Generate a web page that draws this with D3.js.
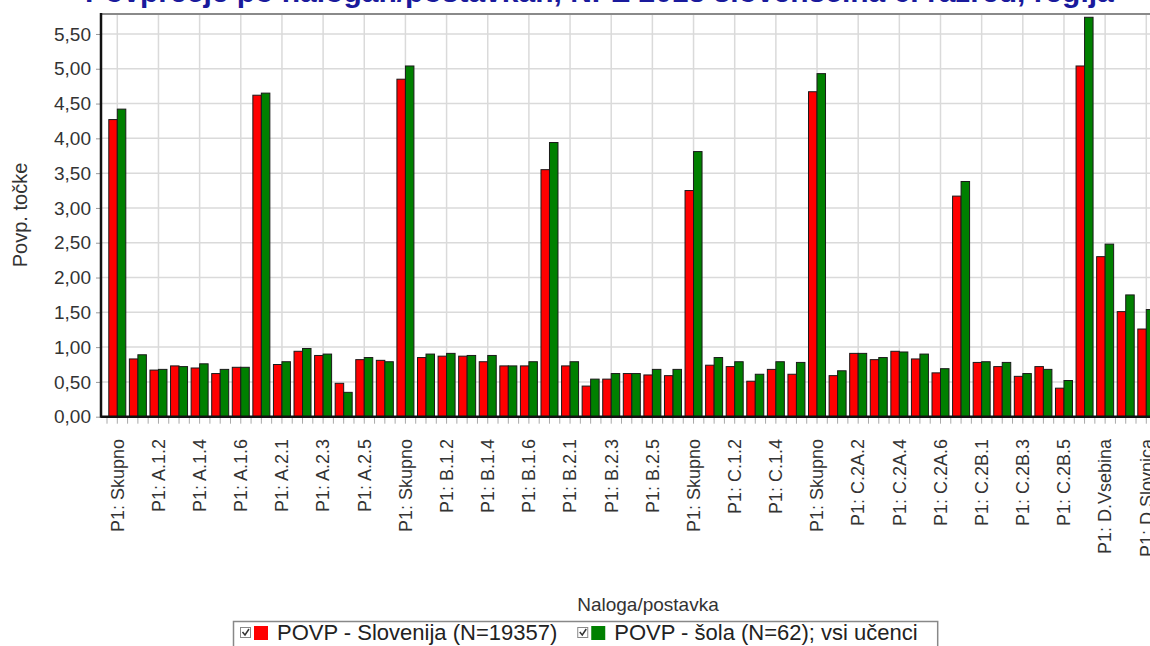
<!DOCTYPE html>
<html>
<head>
<meta charset="utf-8">
<script src="https://cdn.jsdelivr.net/npm/d3@7/dist/d3.min.js"></script>
<style>
  body { margin: 0; background: #fff; }
  text { font-family: "Liberation Sans", Arial, sans-serif; }
</style>
</head>
<body>
<div id="chart"></div>
<script>
// categories (x axis), only every second one gets a label
var categories = ["P1: Skupno","P1: A.1.1","P1: A.1.2","P1: A.1.3","P1: A.1.4","P1: A.1.5","P1: A.1.6",
    "P1: Skupno","P1: A.2.1","P1: A.2.2","P1: A.2.3","P1: A.2.4","P1: A.2.5","P1: A.2.6",
    "P1: Skupno","P1: B.1.1","P1: B.1.2","P1: B.1.3","P1: B.1.4","P1: B.1.5","P1: B.1.6",
    "P1: Skupno","P1: B.2.1","P1: B.2.2","P1: B.2.3","P1: B.2.4","P1: B.2.5","P1: B.2.6",
    "P1: Skupno","P1: C.1.1","P1: C.1.2","P1: C.1.3","P1: C.1.4","P1: C.1.5",
    "P1: Skupno","P1: C.2A.1","P1: C.2A.2","P1: C.2A.3","P1: C.2A.4","P1: C.2A.5","P1: C.2A.6",
    "P1: Skupno","P1: C.2B.1","P1: C.2B.2","P1: C.2B.3","P1: C.2B.4","P1: C.2B.5",
    "P1: Skupno","P1: D.Vsebina","P1: D.Zgradba","P1: D.Slovnica"];

// POVP - Slovenija (red)
var slovenija = [4.27,0.83,0.67,0.73,0.70,0.62,0.71,
    4.62,0.75,0.94,0.88,0.48,0.82,0.81,
    4.85,0.85,0.87,0.87,0.79,0.73,0.73,
    3.55,0.73,0.44,0.54,0.62,0.60,0.59,
    3.25,0.74,0.72,0.51,0.68,0.61,
    4.67,0.59,0.91,0.82,0.94,0.83,0.63,
    3.17,0.78,0.72,0.58,0.72,0.41,
    5.04,2.30,1.51,1.26];

// POVP - sola (green)
var sola = [4.42,0.89,0.68,0.72,0.76,0.68,0.71,
    4.65,0.79,0.98,0.90,0.35,0.85,0.79,
    5.04,0.90,0.91,0.88,0.88,0.73,0.79,
    3.94,0.79,0.54,0.62,0.62,0.68,0.68,
    3.81,0.85,0.79,0.61,0.79,0.78,
    4.93,0.66,0.91,0.85,0.93,0.90,0.69,
    3.38,0.79,0.78,0.62,0.68,0.52,
    5.74,2.48,1.75,1.54];

var seriesNames = ["POVP - Slovenija (N=19357)", "POVP - šola (N=62); vsi učenci"];
var seriesColors = ["#ff0000", "#008000"];
var yTicks = [0, 0.5, 1, 1.5, 2, 2.5, 3, 3.5, 4, 4.5, 5, 5.5];

var title = "Povprečje po nalogah/postavkah, NPZ 2013 slovenščina 6. razred, regija";

var width = 1150, height = 646;
var left = 101, top_ = 14, bottom = 416.7;

var svg = d3.select("#chart")
    .append("svg")
    .attr("width", width)
    .attr("height", height);

var n = categories.length;
var idx = d3.range(n);

// plot runs a bit past the right edge, like the original screenshot
var x = d3.scaleBand()
    .domain(idx)
    .range([left, left + 20.58 * (n - 0.174 + 2 * 0.379)])
    .paddingInner(0.174)
    .paddingOuter(0.379);

var xs = d3.scaleBand()
    .domain([0, 1])
    .range([0, x.bandwidth()]);

var y = d3.scaleLinear()
    .domain([0, 5.787])
    .range([bottom, top_]);

var loc = d3.formatLocale({decimal: ",", thousands: ".", grouping: [3], currency: ["", " €"]});
var fmt = loc.format(".2f");

// title, mostly cut off at the top
svg.append("text")
    .attr("x", 85)
    .attr("y", 2)
    .attr("fill", "#1a1a9c")
    .attr("font-size", 30)
    .attr("font-weight", "bold")
    .text(title);

// horizontal grid
svg.append("g")
    .selectAll("line")
    .data(yTicks)
    .enter().append("line")
    .attr("x1", left)
    .attr("x2", width)
    .attr("y1", function (d) { return y(d); })
    .attr("y2", function (d) { return y(d); })
    .attr("stroke", "#dadada")
    .attr("stroke-width", 1.5);

// vertical grid at labelled categories
var labelled = idx.filter(function (i) { return i % 2 === 0; });
svg.append("g")
    .selectAll("line")
    .data(labelled)
    .enter().append("line")
    .attr("x1", function (i) { return x(i) + x.bandwidth() / 2; })
    .attr("x2", function (i) { return x(i) + x.bandwidth() / 2; })
    .attr("y1", top_)
    .attr("y2", bottom)
    .attr("stroke", "#dadada")
    .attr("stroke-width", 1.5);

// bars
var group = svg.append("g")
    .selectAll("g")
    .data(idx)
    .enter().append("g")
    .attr("transform", function (i) { return "translate(" + x(i) + ",0)"; });

group.selectAll("rect")
    .data(function (i) { return [slovenija[i], sola[i]]; })
    .enter().append("rect")
    .attr("x", function (d, k) { return xs(k); })
    .attr("y", function (d) { return y(d); })
    .attr("width", xs.bandwidth())
    .attr("height", function (d) { return y(0) - y(d); })
    .attr("fill", function (d, k) { return seriesColors[k]; })
    .attr("stroke", "#1a1a1a")
    .attr("stroke-width", 1);

// top border
svg.append("line")
    .attr("x1", left).attr("x2", width)
    .attr("y1", top_).attr("y2", top_)
    .attr("stroke", "#8a8a8a")
    .attr("stroke-width", 2);

// y axis
var yAxis = svg.append("g")
    .attr("transform", "translate(" + left + ",0)")
    .call(d3.axisLeft(y).tickValues(yTicks).tickFormat(fmt).tickSizeInner(5).tickSizeOuter(0).tickPadding(5));
yAxis.select(".domain").remove();
yAxis.selectAll(".tick line").attr("stroke", "#999");
yAxis.selectAll(".tick text")
    .attr("font-size", 19)
    .attr("fill", "#333")
    .style("font-family", "'Liberation Sans', Arial, sans-serif");

// x minor ticks: at centres and between categories
var minor = [];
idx.forEach(function (i) {
    minor.push(x(i) - x.step() * x.paddingInner() / 2);
    minor.push(x(i) + x.bandwidth() / 2);
});
svg.append("g")
    .selectAll("line")
    .data(minor)
    .enter().append("line")
    .attr("x1", function (d) { return d; })
    .attr("x2", function (d) { return d; })
    .attr("y1", bottom + 1)
    .attr("y2", bottom + 7)
    .attr("stroke", "#aaa");

// axis lines
svg.append("line")
    .attr("x1", left).attr("x2", left)
    .attr("y1", top_ - 1).attr("y2", bottom + 1)
    .attr("stroke", "#111").attr("stroke-width", 2.5);
svg.append("line")
    .attr("x1", left).attr("x2", width)
    .attr("y1", bottom).attr("y2", bottom)
    .attr("stroke", "#111").attr("stroke-width", 2.5);

// x labels, rotated
svg.append("g")
    .selectAll("text")
    .data(labelled)
    .enter().append("text")
    .attr("transform", function (i) {
        return "translate(" + (x(i) + x.bandwidth() / 2) + "," + 439 + ") rotate(-90)";
    })
    .attr("dy", "0.35em")
    .attr("text-anchor", "end")
    .attr("font-size", 18)
    .attr("fill", "#333")
    .text(function (i) { return categories[i]; });

// axis titles
svg.append("text")
    .attr("transform", "translate(27,215) rotate(-90)")
    .attr("text-anchor", "middle")
    .attr("font-size", 20)
    .attr("fill", "#333")
    .text("Povp. točke");

svg.append("text")
    .attr("x", 648)
    .attr("y", 611)
    .attr("text-anchor", "middle")
    .attr("font-size", 19)
    .attr("fill", "#333")
    .text("Naloga/postavka");

// legend
var legend = svg.append("g");
var box = legend.append("rect")
    .attr("x", 233.5).attr("y", 621.5)
    .attr("height", 40)
    .attr("fill", "#fff")
    .attr("stroke", "#888")
    .attr("stroke-width", 1.5);

var lx = 240;
seriesNames.forEach(function (name, k) {
    var item = legend.append("g").attr("transform", "translate(" + lx + ",0)");
    item.append("rect")
        .attr("x", 0.5).attr("y", 627.5)
        .attr("width", 10).attr("height", 10)
        .attr("fill", "#fff").attr("stroke", "#888");
    item.append("path")
        .attr("d", "M2.5,632 L5,635 L9,629")
        .attr("fill", "none").attr("stroke", "#333").attr("stroke-width", 1.5);
    item.append("rect")
        .attr("x", 14).attr("y", 626)
        .attr("width", 14).attr("height", 14)
        .attr("fill", seriesColors[k]);
    var t = item.append("text")
        .attr("x", 37).attr("y", 640)
        .attr("font-size", 22)
        .attr("fill", "#222")
        .text(name);
    lx += 37 + t.node().getComputedTextLength() + 20;
});
box.attr("width", lx - 233.5);
</script>
</body>
</html>
